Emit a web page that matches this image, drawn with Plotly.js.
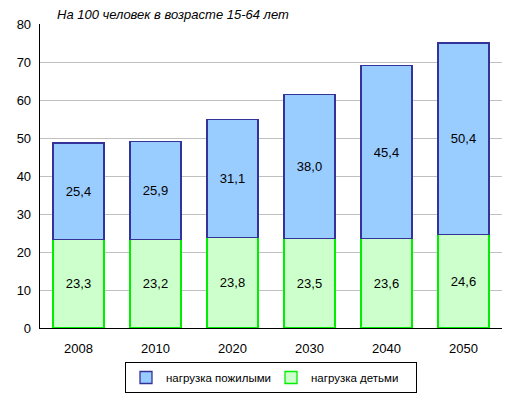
<!DOCTYPE html>
<html>
<head>
<meta charset="utf-8">
<script src="https://cdn.plot.ly/plotly-3.0.1.min.js"></script>
<style>html,body{margin:0;padding:0;background:#fff;}#chart{width:515px;height:396px;}</style>
</head>
<body>
<div id="chart"></div>
<script>
const years = ['2008', '2010', '2020', '2030', '2040', '2050'];
const children = [23.3, 23.2, 23.8, 23.5, 23.6, 24.6];
const elderly = [25.4, 25.9, 31.1, 38.0, 45.4, 50.4];
const seriesNames = ['нагрузка детьми', 'нагрузка пожилыми'];
const titleText = 'На 100 человек в возрасте 15-64 лет';

const fmt = v => v.toFixed(1).replace('.', ',');
const font = 'Liberation Sans, Arial, sans-serif';

const traces = [
  {
    type: 'bar', x: years, y: children, name: seriesNames[0],
    marker: {color: '#CCFFCC', line: {color: '#00EE00', width: 1.3}},
    text: children.map(fmt), textposition: 'inside', insidetextanchor: 'middle',
    textangle: 0, insidetextfont: {color: '#000', size: 13, family: font},
    hoverinfo: 'none'
  },
  {
    type: 'bar', x: years, y: elderly, name: seriesNames[1],
    marker: {color: '#99CCFF', line: {color: '#333399', width: 1.3}},
    text: elderly.map(fmt), textposition: 'inside', insidetextanchor: 'middle',
    textangle: 0, insidetextfont: {color: '#000', size: 13, family: font},
    hoverinfo: 'none'
  }
];

const layout = {
  width: 515, height: 396,
  margin: {l: 40, r: 13, t: 24, b: 68, autoexpand: false},
  barmode: 'stack',
  bargap: 0.34,
  paper_bgcolor: '#fff', plot_bgcolor: '#fff',
  font: {family: font, size: 12, color: '#000'},
  title: {
    text: '<i>' + titleText + '</i>',
    x: 57 / 515, xref: 'container', xanchor: 'left',
    y: 1 - 14 / 396, yref: 'container', yanchor: 'middle',
    font: {family: font, size: 13, color: '#000'}
  },
  xaxis: {
    type: 'category', showline: true, linecolor: '#000', linewidth: 1.3,
    ticks: '', ticklabelstandoff: 8, tickfont: {size: 13}, showgrid: false, zeroline: false,
    fixedrange: true, automargin: false
  },
  yaxis: {
    range: [0, 80], dtick: 10, showline: true, linecolor: '#000', linewidth: 1.3,
    ticks: '', ticklabelstandoff: 5, tickfont: {size: 13}, showgrid: true, gridcolor: '#C0C0C0',
    gridwidth: 1, zeroline: false, fixedrange: true, automargin: false
  },
  showlegend: true,
  legend: {
    orientation: 'h', x: 271 / 515, xref: 'container', xanchor: 'center',
    y: 1 - 377.5 / 396, yref: 'container', yanchor: 'middle',
    traceorder: 'reversed', bordercolor: '#000', borderwidth: 1,
    font: {size: 11.5, family: font}, itemwidth: 30, tracegroupgap: 0,
    entrywidth: 100, entrywidthmode: 'pixels'
  }
};

Plotly.newPlot('chart', traces, layout, {displayModeBar: false, staticPlot: true});
</script>
</body>
</html>
